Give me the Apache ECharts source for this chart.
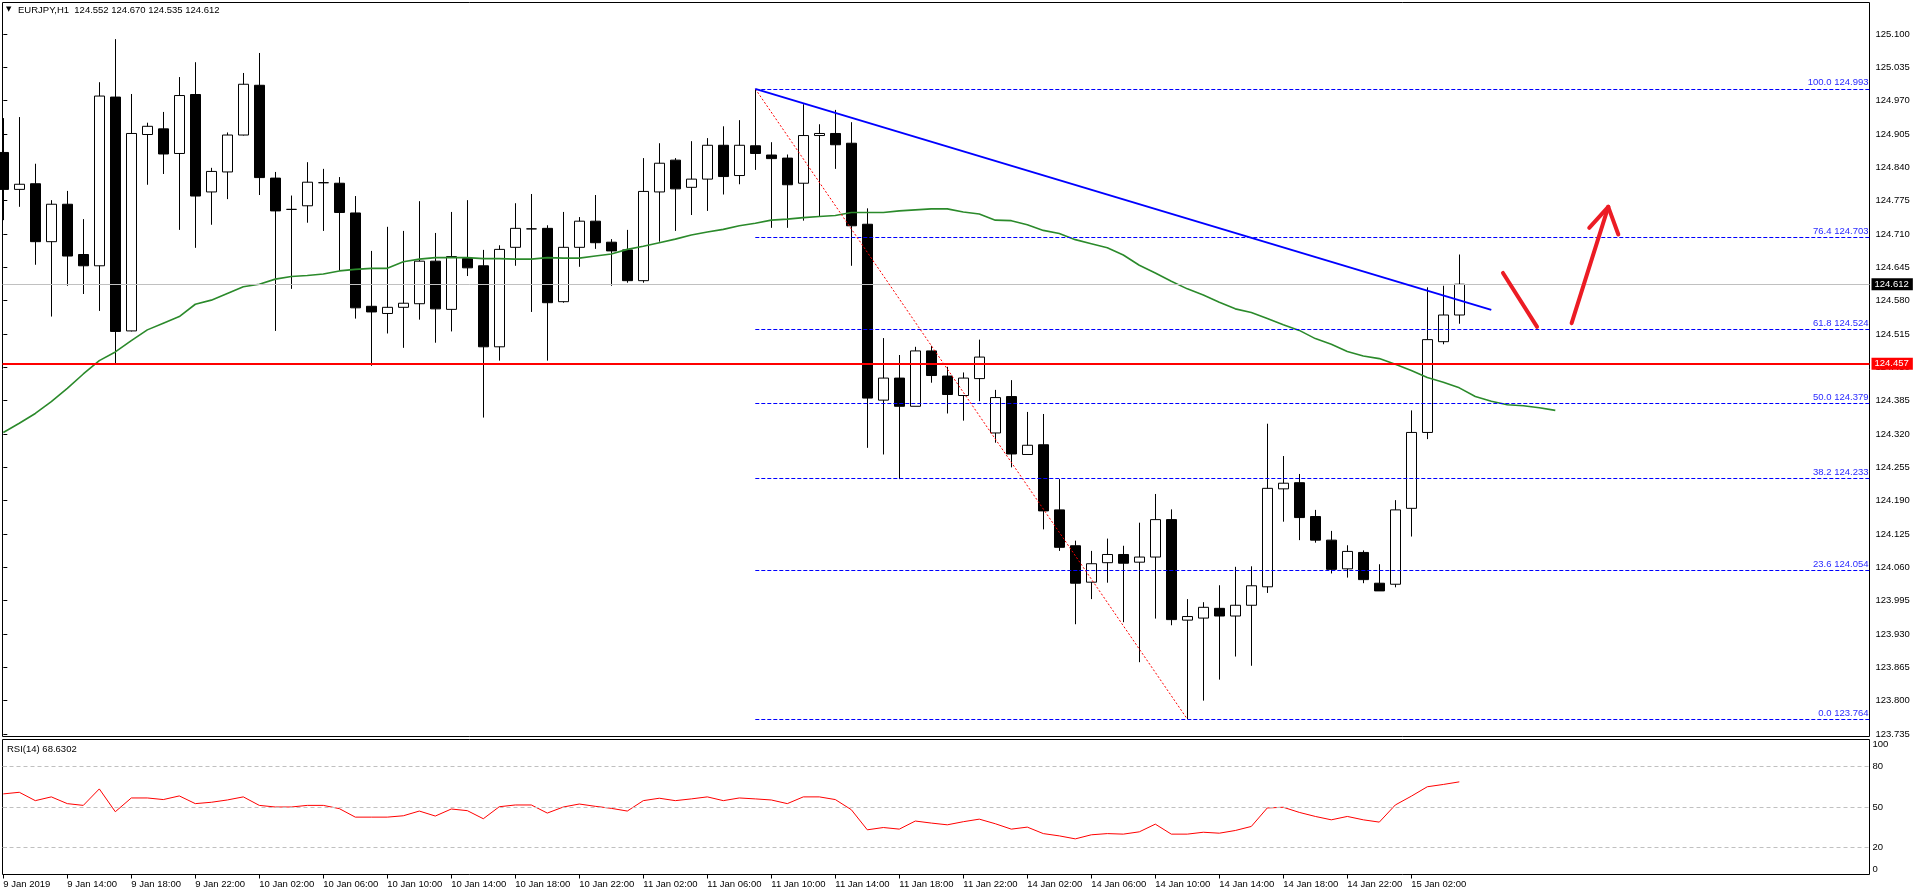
<!DOCTYPE html>
<html><head><meta charset="utf-8">
<script src="https://cdn.jsdelivr.net/npm/echarts@6/dist/echarts.min.js"></script>
<style>html,body{margin:0;padding:0;background:#fff;overflow:hidden}#c{width:1916px;height:896px}</style>
</head><body><div id="c"></div>
<script>
// ---------------- DATA ----------------
const symbolName = 'EURJPY,H1';
const opens  = [124.869,124.797,124.808,124.695,124.768,124.670,124.648,124.977,124.521,124.904,
  124.915,124.867,124.982,124.792,124.831,124.903,125.000,124.819,124.758,124.765,
  124.810,124.809,124.751,124.569,124.555,124.567,124.574,124.657,124.563,124.662,
  124.648,124.490,124.684,124.720,124.721,124.578,124.684,124.735,124.694,124.679,
  124.619,124.792,124.854,124.801,124.817,124.883,124.824,124.882,124.864,124.858,
  124.809,124.902,124.906,124.887,124.729,124.386,124.429,124.374,124.482,124.433,
  124.395,124.428,124.322,124.393,124.280,124.299,124.172,124.102,124.031,124.069,
  124.085,124.070,124.080,124.153,123.957,123.961,123.980,123.965,123.986,124.022,
  124.213,124.225,124.159,124.113,124.057,124.089,124.029,124.027,124.175,124.323,
  124.500,124.552];
const highs  = [124.936,124.938,124.847,124.776,124.794,124.739,125.006,125.090,124.983,124.927,
  124.948,125.016,125.045,124.839,124.908,125.024,125.063,124.831,124.785,124.850,
  124.837,124.821,124.784,124.677,124.724,124.716,124.774,124.712,124.753,124.776,
  124.679,124.688,124.770,124.788,124.727,124.753,124.743,124.786,124.700,124.718,
  124.858,124.887,124.858,124.891,124.897,124.920,124.932,124.993,124.889,124.865,
  124.963,124.924,124.952,124.928,124.760,124.507,124.474,124.490,124.492,124.451,
  124.440,124.504,124.406,124.425,124.363,124.359,124.232,124.112,124.092,124.116,
  124.102,124.147,124.203,124.173,123.998,123.992,124.025,124.061,124.062,124.340,
  124.277,124.242,124.172,124.131,124.103,124.093,124.066,124.191,124.366,124.606,
  124.609,124.670];
const lows   = [124.737,124.763,124.650,124.549,124.609,124.593,124.560,124.458,124.520,124.806,
  124.827,124.718,124.683,124.728,124.778,124.902,124.786,124.521,124.603,124.732,
  124.716,124.638,124.545,124.453,124.516,124.488,124.543,124.498,124.520,124.628,
  124.352,124.463,124.648,124.558,124.463,124.576,124.646,124.681,124.609,124.615,
  124.615,124.695,124.716,124.747,124.755,124.787,124.807,124.835,124.722,124.722,
  124.736,124.745,124.837,124.648,124.293,124.280,124.232,124.374,124.420,124.360,
  124.346,124.384,124.303,124.255,124.280,124.134,124.092,123.949,123.998,124.030,
  123.953,123.875,123.960,123.947,123.764,123.800,123.841,123.886,123.868,124.010,
  124.149,124.113,124.108,124.048,124.040,124.029,124.014,124.021,124.120,124.310,
  124.495,124.535];
const closes = [124.797,124.807,124.695,124.768,124.667,124.648,124.979,124.520,124.906,124.920,
  124.866,124.980,124.784,124.832,124.903,125.002,124.820,124.755,124.758,124.811,
  124.810,124.752,124.566,124.558,124.567,124.575,124.657,124.564,124.666,124.644,
  124.490,124.680,124.721,124.720,124.576,124.684,124.735,124.693,124.677,124.619,
  124.793,124.848,124.798,124.817,124.883,124.822,124.883,124.867,124.857,124.806,
  124.902,124.906,124.884,124.726,124.390,124.429,124.374,124.482,124.434,124.397,
  124.429,124.470,124.391,124.281,124.298,124.170,124.099,124.029,124.067,124.085,
  124.068,124.080,124.153,123.958,123.964,123.982,123.965,123.986,124.024,124.214,
  124.224,124.157,124.113,124.056,124.091,124.036,124.014,124.172,124.323,124.504,
  124.552,124.612];
// moving average (drawn shifted, extends 6 bars past the last candle)
const maValues = [124.323,124.341,124.360,124.383,124.409,124.437,124.463,124.480,124.502,124.523,
  124.536,124.549,124.573,124.581,124.594,124.607,124.612,124.622,124.627,124.629,
  124.632,124.638,124.641,124.643,124.643,124.656,124.661,124.664,124.664,124.664,
  124.662,124.662,124.661,124.661,124.664,124.663,124.663,124.667,124.671,124.680,
  124.686,124.693,124.700,124.708,124.714,124.719,124.726,124.731,124.737,124.739,
  124.742,124.744,124.746,124.752,124.752,124.752,124.755,124.757,124.759,124.759,
  124.753,124.749,124.737,124.736,124.728,124.717,124.711,124.699,124.691,124.683,
  124.669,124.649,124.634,124.618,124.603,124.591,124.577,124.564,124.557,124.545,
  124.533,124.522,124.506,124.495,124.481,124.472,124.467,124.456,124.444,124.430,
  124.421,124.410,124.393,124.384,124.377,124.375,124.371,124.366];
const rsiValues = [59.7,60.9,54.7,57.5,52.5,51.2,63.4,46.5,56.7,56.7,
  55.5,58.2,52.5,53.5,55.2,57.5,51.2,50.0,50.0,51.2,
  51.2,48.8,42.5,42.5,42.5,43.5,47.0,43.3,48.5,47.3,
  41.3,50.2,51.5,51.5,45.5,50.0,52.2,50.5,49.0,47.0,
  54.7,56.5,54.7,56.0,57.5,54.7,56.7,56.0,55.2,52.5,
  57.5,57.5,55.5,48.0,33.1,34.8,33.6,39.6,38.1,36.8,
  39.1,41.0,37.6,33.6,35.1,30.3,28.6,26.4,29.4,30.3,
  29.9,31.6,37.3,29.9,29.9,31.3,30.6,32.6,35.6,49.3,
  49.8,46.0,43.0,40.5,43.0,40.5,38.8,51.5,58.0,65.0,
  66.7,68.6302];
const timeLabels = ['9 Jan 2019','9 Jan 14:00','9 Jan 18:00','9 Jan 22:00','10 Jan 02:00','10 Jan 06:00',
  '10 Jan 10:00','10 Jan 14:00','10 Jan 18:00','10 Jan 22:00','11 Jan 02:00','11 Jan 06:00',
  '11 Jan 10:00','11 Jan 14:00','11 Jan 18:00','11 Jan 22:00','14 Jan 02:00','14 Jan 06:00',
  '14 Jan 10:00','14 Jan 14:00','14 Jan 18:00','14 Jan 22:00','15 Jan 02:00'];
const priceTicks = [123.735,123.800,123.865,123.930,123.995,124.060,124.125,124.190,124.255,124.320,
  124.385,124.450,124.515,124.580,124.645,124.710,124.775,124.840,124.905,124.970,125.035,125.100];
const rsiTicks = [0,20,50,80,100];
const rsiLevels = [20,50,80];
const fibLevels = [100.0,76.4,61.8,50.0,38.2,23.6,0.0];
const fibPrices = [124.993,124.703,124.524,124.379,124.233,124.054,123.764];
const fibStartBar = 47;
const fibEndBar = 74;
const trendStart = [47,124.993];
const trendEnd = [93,124.562];
const supportLevel = 124.457;
const bidPrice = 124.612;
const arrowSegments = [
  [[93.73,124.634],[95.86,124.529]],
  [[98.02,124.536],[100.31,124.763]],
  [[99.12,124.722],[100.31,124.763]],
  [[100.31,124.763],[100.94,124.709]]
];

// ---------------- LAYOUT ----------------
const FONT = 'Liberation Sans';
const FS = 9.5;
const gridLeft = 2.5, gridW = 1867;
const barPx = 16, firstCenter = 3.3;
const XMIN = (gridLeft - firstCenter) / barPx;
const XMAX = (gridLeft + gridW - firstCenter) / barPx;
const mainTop = 2.5, mainH = 734;
const pxPerPrice = 512.8, refY = 34, refPrice = 125.100;
const YMAX = refPrice + (refY - mainTop) / pxPerPrice;
const YMIN = refPrice - (mainTop + mainH - refY) / pxPerPrice;

const candleData = opens.map((o, i) => [i, o, closes[i], lows[i], highs[i]]);
const maData = maValues.map((v, i) => [i, v]);
const rsiData = rsiValues.map((v, i) => [i, v]);
const xTickVals = timeLabels.map((_, k) => k * 4);

const fibLines = fibPrices.map((p, k) => [
  {coord: [fibStartBar, p], label: {formatter: fibLevels[k].toFixed(1) + ' ' + p.toFixed(3)}},
  {coord: [XMAX, p]}
]);

const chart = echarts.init(document.getElementById('c'), null, {renderer: 'canvas'});
chart.setOption({
  animation: false,
  backgroundColor: '#ffffff',
  textStyle: {fontFamily: FONT, fontSize: FS},
  grid: [
    {left: gridLeft, top: mainTop, width: gridW, height: mainH, show: true, borderColor: '#000', borderWidth: 1, backgroundColor: '#fff'},
    {left: gridLeft, top: 739.5, width: gridW, height: 135, show: true, borderColor: '#000', borderWidth: 1, backgroundColor: '#fff'}
  ],
  xAxis: [
    {type: 'value', gridIndex: 0, min: XMIN, max: XMAX, show: false},
    {type: 'value', gridIndex: 1, min: XMIN, max: XMAX,
      axisLine: {show: false}, splitLine: {show: false},
      axisTick: {show: true, customValues: xTickVals, length: 4, lineStyle: {color: '#000'}},
      axisLabel: {customValues: xTickVals, formatter: v => timeLabels[Math.round(v / 4)] || '',
        align: 'left', margin: 5, color: '#000', fontFamily: FONT, fontSize: FS}}
  ],
  yAxis: [
    {type: 'value', gridIndex: 0, position: 'right', min: YMIN, max: YMAX,
      axisLine: {show: false}, splitLine: {show: false},
      axisTick: {show: true, customValues: priceTicks, length: 4, lineStyle: {color: '#000'}},
      axisLabel: {customValues: priceTicks, formatter: v => v.toFixed(3), margin: 6, color: '#000', fontFamily: FONT, fontSize: FS}},
    {type: 'value', gridIndex: 1, position: 'right', min: 0, max: 100,
      axisLine: {show: false}, splitLine: {show: false},
      axisTick: {show: true, customValues: rsiTicks, length: 3, lineStyle: {color: '#000'}},
      axisLabel: {customValues: rsiTicks, margin: 3, color: '#000', fontFamily: FONT, fontSize: FS,
        verticalAlignMinLabel: 'bottom', verticalAlignMaxLabel: 'top'}}
  ],
  series: [
    {
      type: 'candlestick', name: 'price', xAxisIndex: 0, yAxisIndex: 0,
      data: candleData, barWidth: 10, silent: true,
      itemStyle: {color: '#ffffff', color0: '#000000', borderColor: '#000000', borderColor0: '#000000', borderColorDoji: '#000000', borderWidth: 1},
      markLine: {
        silent: true, symbol: ['none', 'none'], animation: false, precision: 3,
        data: [
          {yAxis: bidPrice, lineStyle: {color: '#c0c0c0', width: 1, type: 'solid'},
            label: {show: true, position: 'end', distance: 2, formatter: bidPrice.toFixed(3), color: '#fff', backgroundColor: '#000',
              padding: [1, 4, 1, 3], fontFamily: FONT, fontSize: FS, lineHeight: 10}},
          {yAxis: supportLevel, lineStyle: {color: '#ff0000', width: 2, type: 'solid'},
            label: {show: true, position: 'end', distance: 2, formatter: supportLevel.toFixed(3), color: '#fff', backgroundColor: '#ff0000',
              padding: [1, 4, 1, 3], fontFamily: FONT, fontSize: FS, lineHeight: 10}}
        ]
      }
    },
    {
      type: 'line', name: 'fib', xAxisIndex: 0, yAxisIndex: 0, data: [], silent: true,
      markLine: {
        silent: true, symbol: ['none', 'none'], animation: false,
        lineStyle: {color: '#0000ff', width: 1, type: [4, 2]},
        label: {show: true, position: 'insideEndTop', distance: 1, color: '#2a2aff', fontFamily: FONT, fontSize: FS},
        data: fibLines.concat([
          [{coord: [fibStartBar, fibPrices[0]], lineStyle: {color: '#ff0000', width: 1, type: [2, 2]}, label: {show: false}},
           {coord: [fibEndBar, fibPrices[fibPrices.length - 1]]}]
        ])
      }
    },
    {
      type: 'line', name: 'MA', xAxisIndex: 0, yAxisIndex: 0, data: maData, showSymbol: false, symbol: 'none', silent: true,
      lineStyle: {color: '#2b8a2b', width: 1.6}, z: 3
    },
    {
      type: 'line', name: 'trend', xAxisIndex: 0, yAxisIndex: 0, data: [], silent: true, z: 4,
      markLine: {
        silent: true, symbol: ['none', 'none'], animation: false,
        lineStyle: {color: '#0000ff', width: 2, type: 'solid'}, label: {show: false},
        data: [[{coord: trendStart}, {coord: trendEnd}]]
      }
    },
    {
      type: 'line', name: 'arrows', xAxisIndex: 0, yAxisIndex: 0, data: [], silent: true, z: 5,
      markLine: {
        silent: true, symbol: ['none', 'none'], animation: false,
        lineStyle: {color: '#ec1c24', width: 4, type: 'solid', cap: 'round'}, label: {show: false},
        data: arrowSegments.map(s => [{coord: s[0]}, {coord: s[1]}])
      }
    },
    {
      type: 'line', name: 'RSI', xAxisIndex: 1, yAxisIndex: 1, data: rsiData, showSymbol: false, symbol: 'none', silent: true,
      lineStyle: {color: '#ff0000', width: 1},
      markLine: {
        silent: true, symbol: ['none', 'none'], animation: false,
        lineStyle: {color: '#c0c0c0', width: 1, type: [4, 3]}, label: {show: false},
        data: rsiLevels.map(v => ({yAxis: v}))
      }
    }
  ],
  graphic: [
    {type: 'text', left: 6, top: 6, style: {text: '▼', font: '7px "DejaVu Sans"', fill: '#000'}},
    {type: 'text', left: 18, top: 5, style: {text: symbolName + '  ' + [opens[91], highs[91], lows[91], closes[91]].map(v => v.toFixed(3)).join(' '), font: FS + 'px "' + FONT + '"', fill: '#000'}},
    {type: 'text', left: 7, top: 744, style: {text: 'RSI(14) ' + rsiValues[rsiValues.length - 1].toFixed(4), font: FS + 'px "' + FONT + '"', fill: '#000'}}
  ]
});
</script>
</body></html>
